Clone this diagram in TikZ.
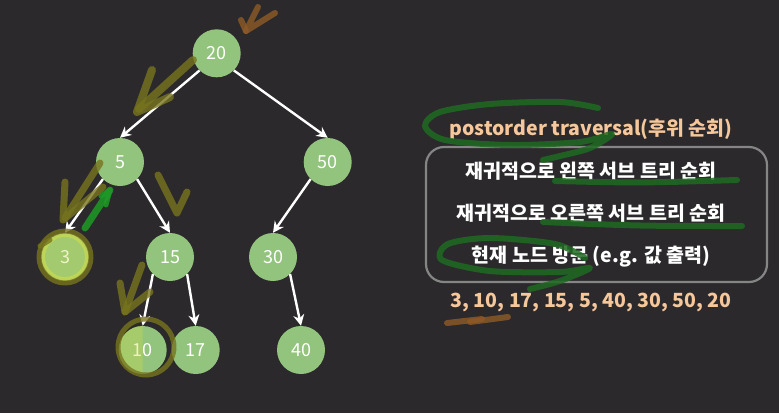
\documentclass[tikz,border=0pt]{standalone}
\usepackage{fontspec}
\setmainfont{Noto Sans CJK KR}
\usetikzlibrary{arrows.meta}
\definecolor{bgdark}{HTML}{2B292C}
\definecolor{nodegreen}{HTML}{93C47D}
\definecolor{peach}{HTML}{F6C79A}
\definecolor{boxgray}{HTML}{858585}
\definecolor{olive}{HTML}{77751E}
\definecolor{lime}{HTML}{CBDA4C}
\definecolor{penbrown}{HTML}{8E5A26}
\definecolor{pengreen}{HTML}{1E9A26}
\definecolor{darkpen}{HTML}{1F6B22}
\newcommand\txtsize{\fontsize{19.5}{21}\selectfont\bfseries}
\tikzset{
  vertex/.style={circle,fill=nodegreen,text=white,minimum size=48pt,inner sep=0pt,font=\fontsize{18}{18}\selectfont},
  edge/.style={white,line width=2.4pt,-{Stealth[length=11pt,width=11pt]}},
  pen/.style={line width=7pt,line cap=round,line join=round,opacity=0.8},
  stepsbox/.style={draw=boxgray,line width=2.2pt,rounded corners=18pt,minimum width=341pt,minimum height=135pt},
  steptext/.style={text=white,font=\txtsize},
  peachtext/.style={text=peach,font=\txtsize}
}
\begin{document}
\begin{tikzpicture}[x=1pt,y=-1pt]
        \fill[bgdark] (0,0) rectangle (779,413);
        \useasboundingbox (0,0) rectangle (779,413);
        \node[vertex] (n20) at (216.7,53.3) {20};
        \node[vertex] (n5) at (120,162) {5};
        \node[vertex] (n50) at (327.7,162) {50};
        \node[vertex] (n3) at (65,257) {3};
        \node[vertex] (n15) at (170,257) {15};
        \node[vertex] (n30) at (273,257) {30};
        \node[vertex] (n10) at (142.7,350) {10};
        \node[vertex] (n17) at (195.7,350) {17};
        \node[vertex] (n40) at (301,350) {40};
        \draw[edge] (n20.south west) -- (n5.north);
        \draw[edge] (n20.south east) -- (n50.north);
        \draw[edge] (n5.south west) -- (n3.north);
        \draw[edge] (n5.south east) -- (n15.north);
        \draw[edge] (n50.south west) -- (n30.north);
        \draw[edge] (n15.south west) -- (n10.north);
        \draw[edge] (n15.south east) -- (n17.north);
        \draw[edge] (n30.south east) -- (n40.north);
        \draw[pen,penbrown,line width=6pt] (258,7) -- (246,31) -- (275,13);
        \draw[pen,penbrown,line width=6pt] (241,20) -- (246,31);
        \draw[pen,olive,line width=8pt] (193,60) -- (139,109);
        \draw[pen,olive,line width=8pt] (152,70) -- (137,112) -- (170,97);
        \draw[pen,olive] (100,163) -- (65,218);
        \draw[pen,olive] (65,182) -- (63,220) -- (103,187);
        \draw[pen,olive] (158,175) -- (177,213) -- (187,192);
        \draw[pen,pengreen,opacity=0.85] (85,228) -- (110,190);
        \draw[pen,pengreen,line width=5pt,opacity=0.85] (101,196) -- (110,190) -- (106,205);
        \fill[lime,opacity=0.3] (n3) circle[radius=22];
        \draw[pen,lime,line width=4pt,opacity=0.7] (n3) circle[radius=22];
        \draw[pen,olive,line width=5pt] (n3) circle[radius=26];
        \draw[pen,olive,line width=5pt] (40,246) -- (50,240);
        \draw[pen,olive] (142,265) -- (125,312);
        \draw[pen,olive] (120,283) -- (125,312) -- (150,292);
        \fill[lime,opacity=0.35] (n10.north) arc[start angle=-90,end angle=-270,radius=24] -- cycle;
        \draw[pen,olive,line width=5pt] (146,347) circle[radius=28];
        \node[peachtext] (title) at (591,129) {postorder traversal(후위 순회)};
        \node[stepsbox] (box) at (596.5,214.5) {};
        \node[steptext] (stepleft) at (591,171) {재귀적으로 왼쪽 서브 트리 순회};
        \node[steptext] (stepright) at (591,213) {재귀적으로 오른쪽 서브 트리 순회};
        \node[steptext] (stepvisit) at (591,257) {현재 노드 방문 (e.g. 값 출력)};
        \node[peachtext] (result) at (591,302) {3, 10, 17, 15, 5, 40, 30, 50, 20};
        \draw[pen,darkpen,line width=6pt,opacity=0.85] plot[smooth] coordinates {(598,108) (560,102) (490,104) (440,112) (425,126) (445,140) (510,145) (580,142) (612,134) (590,148) (560,156) (543,160)};
        \draw[pen,darkpen,line width=6pt,opacity=0.85] (555,181) .. controls (640,183) .. (737,180);
        \draw[pen,darkpen,line width=6pt,opacity=0.85] (543,222) .. controls (640,226) .. (742,226);
        \draw[pen,darkpen,line width=6pt,opacity=0.85] plot[smooth] coordinates {(585,258) (555,244) (490,238) (448,244) (442,260) (490,271) (560,272) (590,268) (560,281) (530,289)};
        \draw[pen,penbrown,line width=6pt] (447,323) -- (482,319);
        \draw[pen,penbrown,line width=6pt] (470,322) -- (508,317);
\end{tikzpicture}
\end{document}
